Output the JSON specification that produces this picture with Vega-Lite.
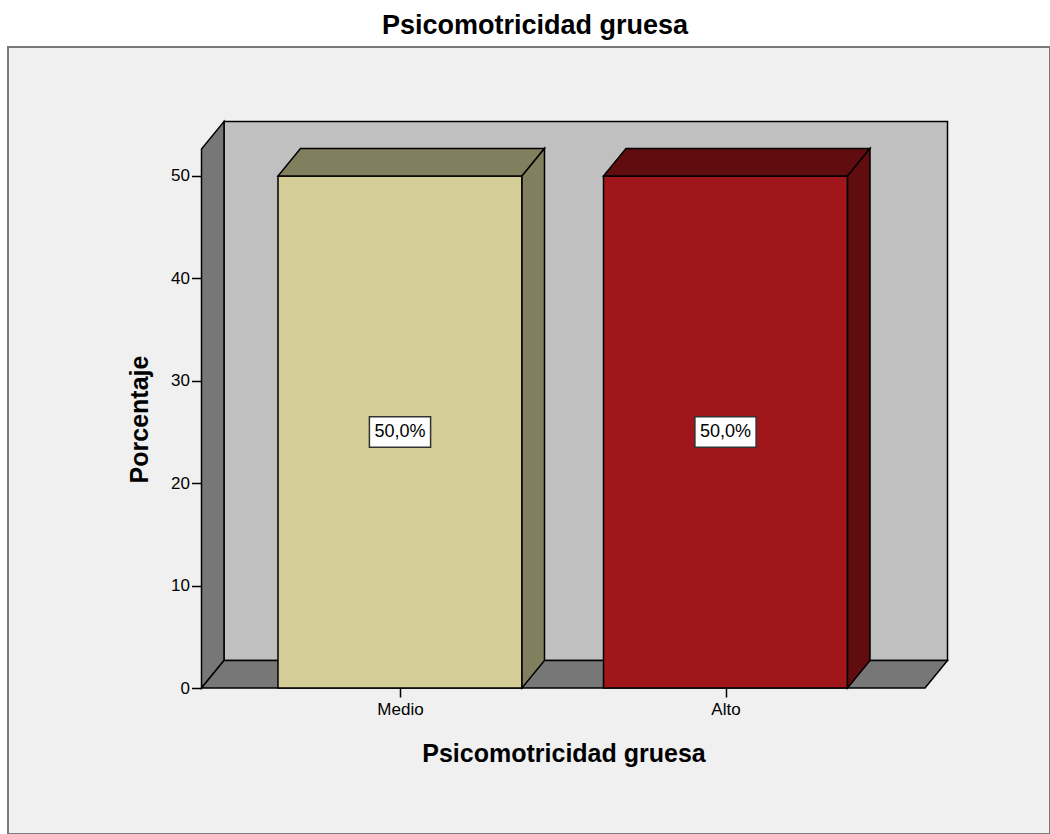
{
  "$schema": "https://vega.github.io/schema/vega-lite/v6.json",
  "width": 1042,
  "height": 787,
  "autosize": "none",
  "padding": {"left": 8, "top": 47, "right": 0, "bottom": 0},
  "background": "white",
  "title": {"text": "Psicomotricidad gruesa", "font": "Liberation Sans", "fontSize": 27, "fontWeight": "bold", "color": "#000", "anchor": "middle", "frame": "group", "offset": 7, "dx": 6},
  "params": [
    {"name": "hw", "value": 0.3748},
    {"name": "dx", "value": 0.0691},
    {"name": "dy", "value": 2.686},
    {"name": "xl", "value": -0.6098},
    {"name": "xr", "value": 1.6129},
    {"name": "yt", "value": 52.63},
    {"name": "bw", "value": 0.094},
    {"name": "bh", "value": 1.5}
  ],
  "datasets": {
    "bars": [
      {"Psicomotricidad gruesa": "Medio", "Porcentaje": 50},
      {"Psicomotricidad gruesa": "Alto", "Porcentaje": 50}
    ],
    "walls": [
      {"cara": "fondo"},
      {"cara": "izquierda"},
      {"cara": "suelo"}
    ]
  },
  "encoding": {
    "x": {
      "field": "px", "type": "quantitative",
      "scale": {"domain": [-0.6098, 1.682], "range": [193.5, 939.5], "nice": false, "zero": false},
      "axis": {
        "title": "Psicomotricidad gruesa", "values": [0, 1],
        "labelExpr": "datum.value < 0.5 ? 'Medio' : 'Alto'",
        "offset": -146, "domain": false, "grid": false,
        "tickSize": 9, "tickColor": "#000", "tickWidth": 1.5,
        "labelFont": "Liberation Sans", "labelFontSize": 17, "labelColor": "#000", "labelPadding": 4,
        "labelFlush": false, "labelOverlap": false,
        "titleFont": "Liberation Sans", "titleFontSize": 25, "titleFontWeight": "bold", "titleColor": "#000",
        "titleX": 555.5, "titleY": 73, "titleAlign": "center", "titleBaseline": "alphabetic"
      }
    },
    "y": {
      "field": "py", "type": "quantitative", "stack": null,
      "scale": {"domain": [0, 55.32], "range": [641, 74.5], "nice": false, "zero": false},
      "axis": {
        "title": "Porcentaje", "values": [0, 10, 20, 30, 40, 50],
        "offset": -193.5, "domain": false, "grid": false,
        "tickSize": 10, "tickColor": "#000", "tickWidth": 1.5,
        "labelFont": "Liberation Sans", "labelFontSize": 17, "labelColor": "#000", "labelPadding": 2,
        "titleFont": "Liberation Sans", "titleFontSize": 25, "titleFontWeight": "bold", "titleColor": "#000",
        "titleX": -54.5, "titleY": 372, "titleAlign": "center", "titleBaseline": "alphabetic", "titleAngle": 270
      }
    }
  },
  "layer": [
    {
      "data": {"name": "walls"},
      "transform": [
        {"filter": "datum.cara == 'fondo'"},
        {"calculate": "xl + dx", "as": "px"},
        {"calculate": "xr + dx", "as": "px2"},
        {"calculate": "dy", "as": "py"},
        {"calculate": "yt + dy", "as": "py2"}
      ],
      "mark": {"type": "rect", "fill": "#c0c0c0", "stroke": "#000", "strokeWidth": 1.5},
      "encoding": {"x2": {"field": "px2"}, "y2": {"field": "py2"}}
    },
    {
      "data": {"name": "walls"},
      "transform": [
        {"filter": "datum.cara == 'izquierda'"},
        {"calculate": "[0, 1]", "as": "v"},
        {"flatten": ["v"]},
        {"calculate": "xl + datum.v * dx", "as": "px"},
        {"calculate": "datum.v * dy", "as": "py"},
        {"calculate": "yt + datum.v * dy", "as": "py2"}
      ],
      "mark": {"type": "area", "orient": "vertical", "fill": "#777777", "stroke": "#000", "strokeWidth": 1.5},
      "encoding": {"y2": {"field": "py2"}}
    },
    {
      "data": {"name": "walls"},
      "transform": [
        {"filter": "datum.cara == 'suelo'"},
        {"calculate": "[0, 1, 2, 3]", "as": "v"},
        {"flatten": ["v"]},
        {"calculate": "datum.v == 0 ? xl : datum.v == 1 ? xl + dx : datum.v == 2 ? xr : xr + dx", "as": "px"},
        {"calculate": "datum.v == 3 ? dy : 0", "as": "py"},
        {"calculate": "datum.v == 0 ? 0 : dy", "as": "py2"}
      ],
      "mark": {"type": "area", "orient": "vertical", "fill": "#777777", "stroke": "#000", "strokeWidth": 1.5},
      "encoding": {"y2": {"field": "py2"}}
    },
    {
      "data": {"name": "bars"},
      "transform": [
        {"window": [{"op": "row_number", "as": "rn"}]},
        {"calculate": "datum.rn - 1", "as": "idx"},
        {"calculate": "datum['Psicomotricidad gruesa']", "as": "tono"},
        {"calculate": "datum.idx - hw", "as": "px"},
        {"calculate": "datum.idx + hw", "as": "px2"},
        {"calculate": "0", "as": "py"},
        {"calculate": "datum.Porcentaje", "as": "py2"}
      ],
      "mark": {"type": "rect", "stroke": "#000", "strokeWidth": 1.5},
      "encoding": {
        "x2": {"field": "px2"}, "y2": {"field": "py2"},
        "fill": {"field": "tono", "type": "nominal", "legend": null,
          "scale": {"domain": ["Medio", "Alto", "Medio oscuro", "Alto oscuro"], "range": ["#d4cd98", "#a0161a", "#827f5e", "#610d10"]}}
      }
    },
    {
      "data": {"name": "bars"},
      "transform": [
        {"window": [{"op": "row_number", "as": "rn"}]},
        {"calculate": "datum.rn - 1", "as": "idx"},
        {"calculate": "datum['Psicomotricidad gruesa'] + ' oscuro'", "as": "tono"},
        {"calculate": "[0, 1, 2, 3]", "as": "v"},
        {"flatten": ["v"]},
        {"calculate": "datum.v == 0 ? datum.idx - hw : datum.v == 1 ? datum.idx - hw + dx : datum.v == 2 ? datum.idx + hw : datum.idx + hw + dx", "as": "px"},
        {"calculate": "datum.v == 3 ? datum.Porcentaje + dy : datum.Porcentaje", "as": "py"},
        {"calculate": "datum.v == 0 ? datum.Porcentaje : datum.Porcentaje + dy", "as": "py2"}
      ],
      "mark": {"type": "area", "orient": "vertical", "stroke": "#000", "strokeWidth": 1.5},
      "encoding": {
        "y2": {"field": "py2"},
        "fill": {"field": "tono", "type": "nominal", "legend": null,
          "scale": {"domain": ["Medio", "Alto", "Medio oscuro", "Alto oscuro"], "range": ["#d4cd98", "#a0161a", "#827f5e", "#610d10"]}}
      }
    },
    {
      "data": {"name": "bars"},
      "transform": [
        {"window": [{"op": "row_number", "as": "rn"}]},
        {"calculate": "datum.rn - 1", "as": "idx"},
        {"calculate": "datum['Psicomotricidad gruesa'] + ' oscuro'", "as": "tono"},
        {"calculate": "[0, 1]", "as": "v"},
        {"flatten": ["v"]},
        {"calculate": "datum.idx + hw + datum.v * dx", "as": "px"},
        {"calculate": "datum.v * dy", "as": "py"},
        {"calculate": "datum.Porcentaje + datum.v * dy", "as": "py2"}
      ],
      "mark": {"type": "area", "orient": "vertical", "stroke": "#000", "strokeWidth": 1.5},
      "encoding": {
        "y2": {"field": "py2"},
        "fill": {"field": "tono", "type": "nominal", "legend": null,
          "scale": {"domain": ["Medio", "Alto", "Medio oscuro", "Alto oscuro"], "range": ["#d4cd98", "#a0161a", "#827f5e", "#610d10"]}}
      }
    },
    {
      "data": {"name": "bars"},
      "transform": [
        {"window": [{"op": "row_number", "as": "rn"}]},
        {"calculate": "datum.rn - 1", "as": "idx"},
        {"calculate": "datum.idx - bw", "as": "px"},
        {"calculate": "datum.idx + bw", "as": "px2"},
        {"calculate": "datum.Porcentaje / 2 - bh", "as": "py"},
        {"calculate": "datum.Porcentaje / 2 + bh", "as": "py2"}
      ],
      "mark": {"type": "rect", "fill": "#ffffff", "stroke": "#333", "strokeWidth": 1.5},
      "encoding": {"x2": {"field": "px2"}, "y2": {"field": "py2"}}
    },
    {
      "data": {"name": "bars"},
      "transform": [
        {"window": [{"op": "row_number", "as": "rn"}]},
        {"calculate": "datum.rn - 1", "as": "idx"},
        {"calculate": "datum.idx", "as": "px"},
        {"calculate": "datum.Porcentaje / 2", "as": "py"},
        {"calculate": "replace(format(datum.Porcentaje, '.1f'), '.', ',') + '%'", "as": "etiqueta"}
      ],
      "mark": {"type": "text", "font": "Liberation Sans", "fontSize": 18, "color": "#000", "align": "center", "baseline": "middle"},
      "encoding": {"text": {"field": "etiqueta"}}
    }
  ],
  "config": {
    "view": {"fill": "#f0f0f0", "stroke": "#7a7a7a", "strokeWidth": 2}
  }
}
